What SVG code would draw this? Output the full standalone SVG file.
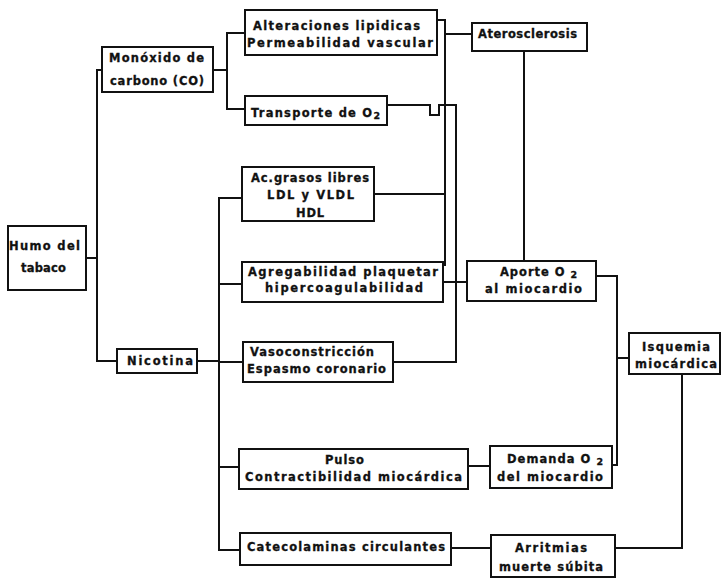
<svg xmlns="http://www.w3.org/2000/svg" width="722" height="580" viewBox="0 0 722 580">
  <style>
    .b { fill: #fff; stroke: #111; stroke-width: 2; }
    .c { fill: none; stroke: #111; stroke-width: 2; stroke-linejoin: miter; }
    .t { font-family: "DejaVu Sans", "Liberation Sans", sans-serif; font-weight: bold; font-size: 11.5px; fill: #111; stroke: #111; stroke-width: 0.3; }
    .s { font-size: 9.5px; }
  </style>
  <rect width="722" height="580" fill="#fff"/>

  <!-- connectors -->
  <g id="connectors">
    <path class="c" d="M86,258 H97"/>
    <path class="c" d="M102,70 H97 V361 H117"/>
    <path class="c" d="M213,70 H227"/>
    <path class="c" d="M245,33 H227 V109 H245"/>
    <path class="c" d="M197,361 H219"/>
    <path class="c" d="M242,198 H219 V550 H240"/>
    <path class="c" d="M219,284 H242"/>
    <path class="c" d="M219,362 H243"/>
    <path class="c" d="M219,467 H239"/>
    <path class="c" d="M437,20 H445 V266"/>
    <path class="c" d="M445,34 H472"/>
    <path class="c" d="M374,194 H445"/>
    <path class="c" d="M387,105 H430 V115 H439 V105 H456 V362 H393"/>
    <path class="c" d="M443,282 H467"/>
    <path class="c" d="M524,51 V261"/>
    <path class="c" d="M596,276 H617 V465 H612"/>
    <path class="c" d="M617,358 H629"/>
    <path class="c" d="M468,466 H490"/>
    <path class="c" d="M451,548 H491"/>
    <path class="c" d="M615,548 H682 V374"/>
  </g>

  <g id="humo">
    <rect class="b" x="8" y="226" width="78" height="64"/>
    <text class="t" x="9" y="250" textLength="71">Humo del</text>
    <text class="t" x="21" y="272" textLength="45">tabaco</text>
  </g>

  <g id="monoxido">
    <rect class="b" x="102" y="47" width="111" height="45"/>
    <text class="t" x="109" y="62" textLength="95">Monóxido de</text>
    <text class="t" x="110" y="85" textLength="94">carbono (CO)</text>
  </g>

  <g id="nicotina">
    <rect class="b" x="117" y="349" width="80" height="24"/>
    <text class="t" x="127" y="365" textLength="66">Nicotina</text>
  </g>

  <g id="alteraciones">
    <rect class="b" x="245" y="10" width="192" height="45"/>
    <text class="t" x="253" y="30" textLength="167">Alteraciones lipidicas</text>
    <text class="t" x="247" y="47" textLength="186">Permeabilidad vascular</text>
  </g>

  <g id="transporte">
    <rect class="b" x="245" y="96" width="142" height="29"/>
    <text class="t" x="251" y="117" textLength="129">Transporte de O<tspan class="s" dy="2">2</tspan></text>
  </g>

  <g id="acgrasos">
    <rect class="b" x="242" y="167" width="132" height="54"/>
    <text class="t" x="251" y="182" textLength="118">Ac.grasos libres</text>
    <text class="t" x="267" y="199" textLength="87">LDL y VLDL</text>
    <text class="t" x="296" y="217" textLength="28">HDL</text>
  </g>

  <g id="agregabilidad">
    <rect class="b" x="242" y="262" width="201" height="40"/>
    <text class="t" x="248" y="276" textLength="190">Agregabilidad plaquetar</text>
    <text class="t" x="265" y="292" textLength="158">hipercoagulabilidad</text>
  </g>

  <g id="vasoconstriccion">
    <rect class="b" x="243" y="342" width="150" height="40"/>
    <text class="t" x="250" y="356" textLength="124">Vasoconstricción</text>
    <text class="t" x="247" y="373" textLength="139">Espasmo coronario</text>
  </g>

  <g id="pulso">
    <rect class="b" x="239" y="449" width="229" height="40"/>
    <text class="t" x="325" y="464" textLength="39">Pulso</text>
    <text class="t" x="245" y="481" textLength="217">Contractibilidad miocárdica</text>
  </g>

  <g id="catecolaminas">
    <rect class="b" x="240" y="533" width="211" height="32"/>
    <text class="t" x="247" y="551" textLength="198">Catecolaminas circulantes</text>
  </g>

  <g id="aterosclerosis">
    <rect class="b" x="472" y="23" width="115" height="28"/>
    <text class="t" x="478" y="38" textLength="99">Aterosclerosis</text>
  </g>

  <g id="aporte">
    <rect class="b" x="467" y="261" width="129" height="40"/>
    <text class="t" x="500" y="276" textLength="77">Aporte O <tspan class="s" dy="2">2</tspan></text>
    <text class="t" x="485" y="293" textLength="97">al miocardio</text>
  </g>

  <g id="isquemia">
    <rect class="b" x="629" y="333" width="91" height="41"/>
    <text class="t" x="642" y="351" textLength="68">Isquemia</text>
    <text class="t" x="635" y="368" textLength="82">miocárdica</text>
  </g>

  <g id="demanda">
    <rect class="b" x="490" y="446" width="122" height="42"/>
    <text class="t" x="507" y="463" textLength="96">Demanda O <tspan class="s" dy="2">2</tspan></text>
    <text class="t" x="497" y="481" textLength="106">del miocardio</text>
  </g>

  <g id="arritmias">
    <rect class="b" x="491" y="535" width="124" height="42"/>
    <text class="t" x="515" y="552" textLength="72">Arritmias</text>
    <text class="t" x="499" y="571" textLength="104">muerte súbita</text>
  </g>
</svg>
